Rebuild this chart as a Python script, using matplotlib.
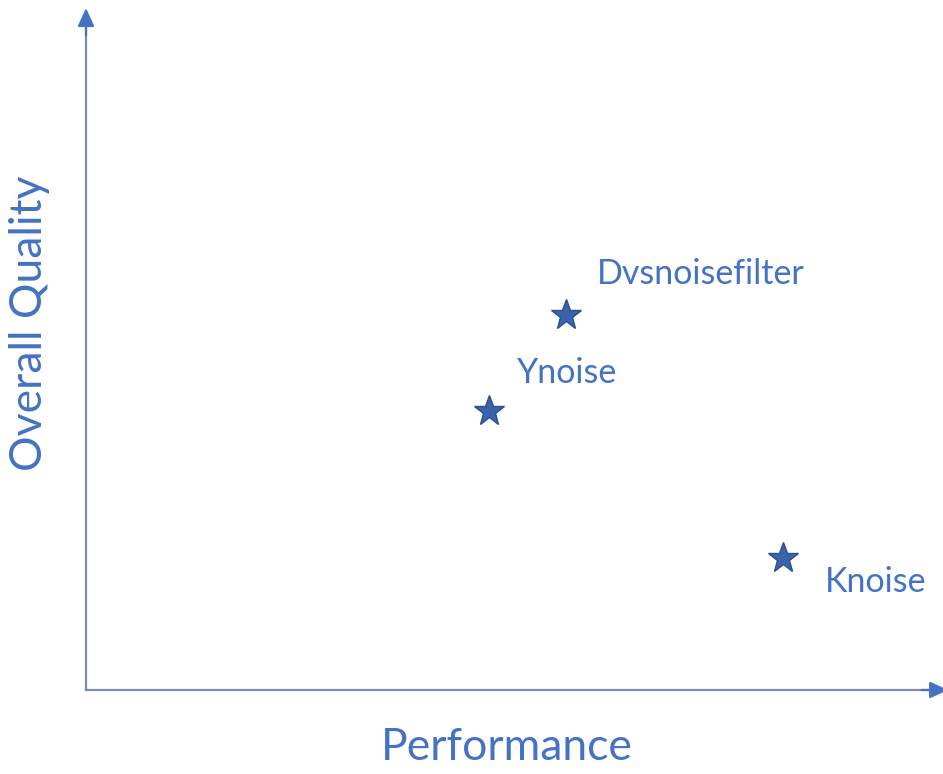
import matplotlib.pyplot as plt

# Tools placed on a quality vs. performance map (arbitrary 0-100 scale)
tools = ["Dvsnoisefilter", "Ynoise", "Knoise"]
performance = [56.0, 47.0, 81.3]
quality = [55.0, 40.9, 19.3]
# label offsets in pixels from each star
label_dx = [31, 28, 42]
label_dy = [41, 38, -24]

text_blue = "#4472C4"
star_fill = "#3A63AD"
star_edge = "#2F4F8A"
axis_grey = "#7A8CB3"

fig = plt.figure(figsize=(9.43, 7.74), dpi=100)
ax = fig.add_axes([86 / 943, 84 / 774, 857 / 943, 682 / 774])
ax.set_xlim(0, 100)
ax.set_ylim(0, 100)
ax.axis("off")

# axis lines with arrow heads
ax.plot([0, 0.985], [0, 0], color=axis_grey, lw=1.6, transform=ax.transAxes, clip_on=False)
ax.plot([0, 0], [0, 0.975], color=axis_grey, lw=1.6, transform=ax.transAxes, clip_on=False)
ax.annotate("", xy=(1.006, 0), xytext=(0.975, 0), xycoords="axes fraction",
            arrowprops=dict(arrowstyle="-|>,head_length=1.1,head_width=0.5",
                            color=text_blue, lw=1.6, shrinkA=0, shrinkB=0))
ax.annotate("", xy=(0, 1.0), xytext=(0, 0.96), xycoords="axes fraction",
            arrowprops=dict(arrowstyle="-|>,head_length=1.1,head_width=0.5",
                            color=text_blue, lw=1.6, shrinkA=0, shrinkB=0))

ax.plot(performance, quality, linestyle="none", marker="*", markersize=23,
        markerfacecolor=star_fill, markeredgecolor=star_edge, markeredgewidth=1.0)

for name, x, y, dx, dy in zip(tools, performance, quality, label_dx, label_dy):
    ax.annotate(name, xy=(x, y), xytext=(dx, dy), textcoords="offset pixels",
                ha="left", va="center", fontsize=24.5, family="Lato", color=text_blue)

fig.text(507 / 943, 1 - 748 / 774, "Performance", ha="center", va="center",
         fontsize=32, family="Lato", color=text_blue)
fig.text(30 / 943, 1 - 323 / 774, "Overall Quality", ha="center", va="center",
         rotation=90, fontsize=32, family="Lato", color=text_blue)

fig.savefig("out.png", dpi=100)
